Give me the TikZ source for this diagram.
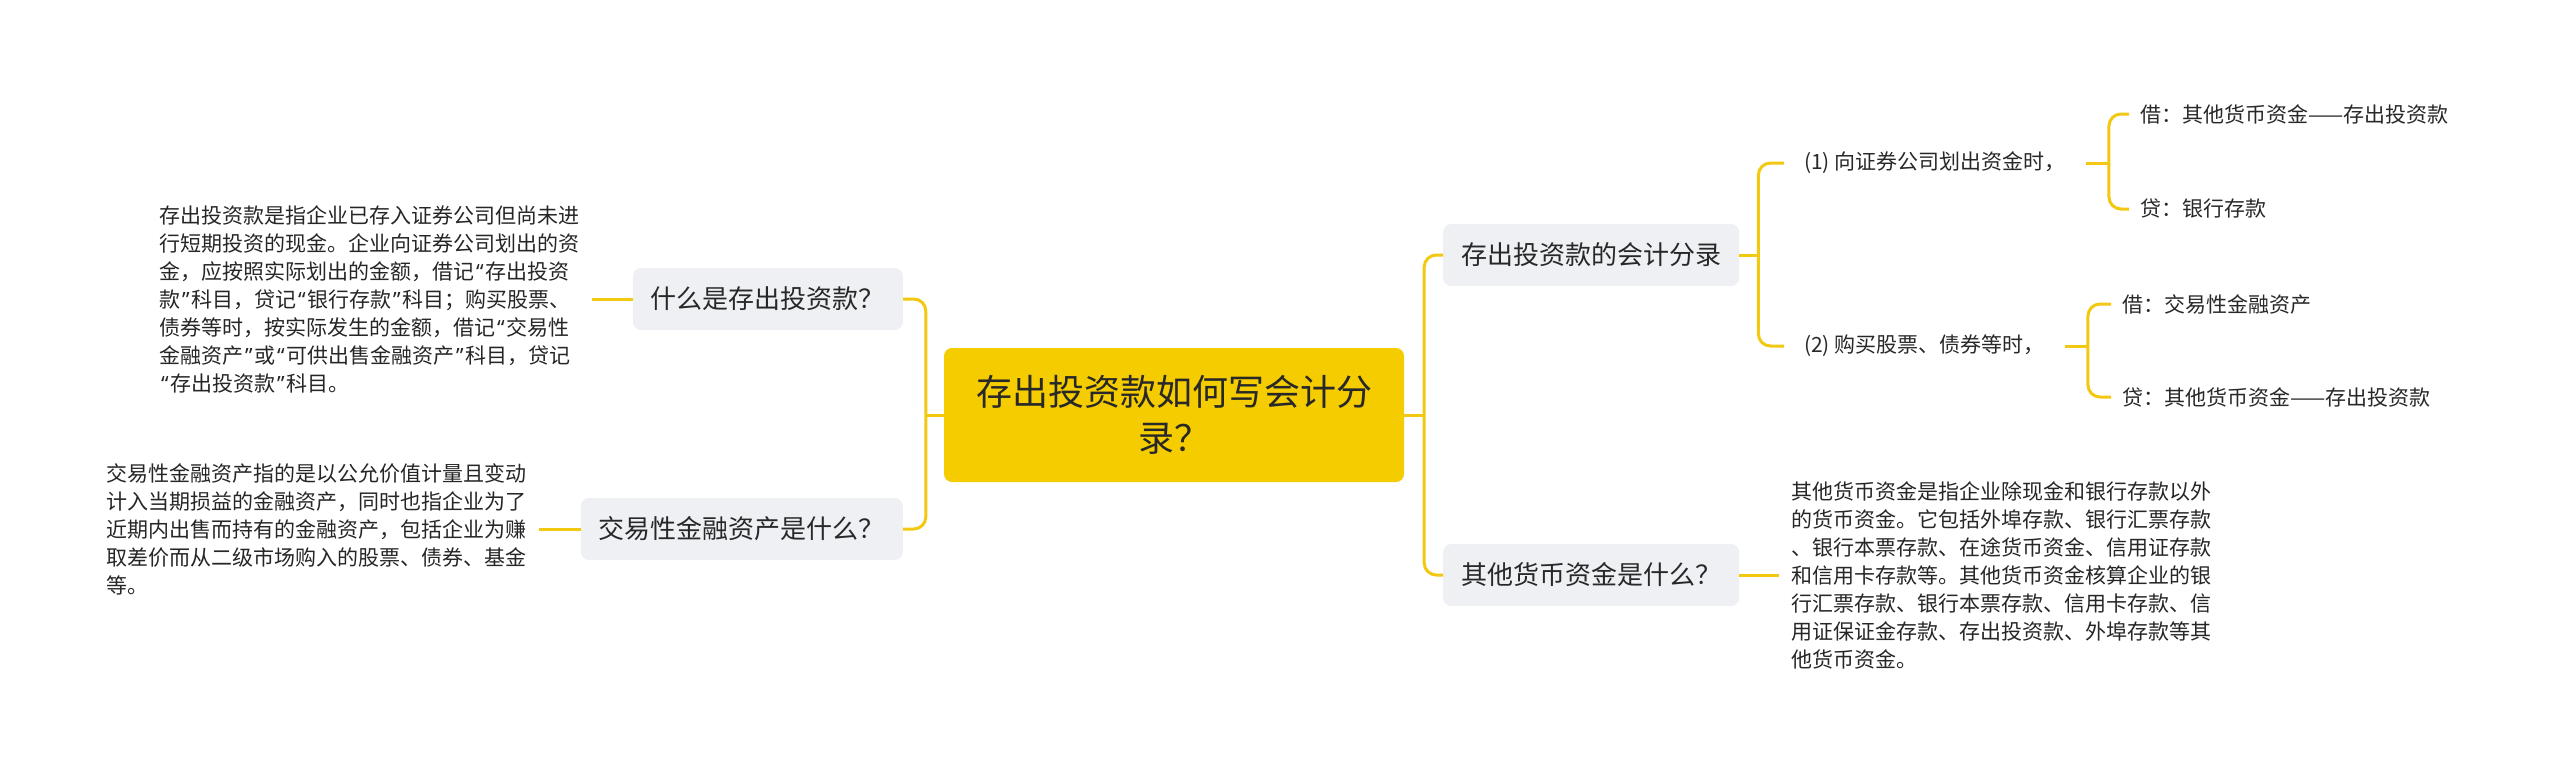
\documentclass[tikz,border=0pt]{standalone}
\usepackage{fontspec}
\setmainfont{Noto Sans CJK SC}
\newfontfamily\quotefont{Noto Sans}
\usetikzlibrary{positioning}
\definecolor{rootcol}{RGB}{245,204,0}
\definecolor{linkcol}{RGB}{242,200,17}
\definecolor{topiccol}{RGB}{238,240,244}
\definecolor{inkcol}{RGB}{40,40,40}
\newcommand\qo{\makebox[11pt][c]{\quotefont “}}
\newcommand\qc{\makebox[11pt][c]{\quotefont ”}}

\begin{document}
\begin{tikzpicture}[
    x=1pt, y=-1pt,
    root/.style={rectangle, rounded corners=8pt, fill=rootcol, minimum width=460pt, minimum height=134pt, text width=400pt, align=center, font=\fontsize{36}{46}\selectfont, text=inkcol},
    topic/.style={rectangle, rounded corners=8pt, fill=topiccol, minimum height=62pt, inner xsep=18pt, font=\fontsize{26}{32}\selectfont, text=inkcol},
    sub/.style={inner xsep=20pt, inner ysep=2pt, font=\fontsize{21}{28}\selectfont, text=inkcol},
    leaf/.style={inner xsep=11pt, inner ysep=2pt, font=\fontsize{21}{28}\selectfont, text=inkcol},
    note/.style={inner xsep=12pt, align=left, font=\fontsize{21}{28}\selectfont, text=black!85},
    link/.style={draw=linkcol, line width=3pt, rounded corners=12pt},
]
\useasboundingbox (0,0) rectangle (2560,771);

% centre
\node[root] (c) at (1174,415) {存出投资款如何写会计分\\录？};

% first level
\node[topic, anchor=east] (n1) at (903,299) {什么是存出投资款？};
\node[topic, anchor=east] (n2) at (903,529) {交易性金融资产是什么？};
\node[topic, anchor=west] (n3) at (1443,255) {存出投资款的会计分录};
\node[topic, anchor=west] (n4) at (1443,575) {其他货币资金是什么？};

% notes
\node[note, left=41pt of n1] (d1) {存出投资款是指企业已存入证券公司但尚未进\\行短期投资的现金。企业向证券公司划出的资\\金，应按照实际划出的金额，借记\qo 存出投资\\款\qc 科目，贷记\qo 银行存款\qc 科目；购买股票、\\债券等时，按实际发生的金额，借记\qo 交易性\\金融资产\qc 或\qo 可供出售金融资产\qc 科目，贷记\\\qo 存出投资款\qc 科目。};
\node[note, left=42pt of n2] (d2) {交易性金融资产指的是以公允价值计量且变动\\计入当期损益的金融资产，同时也指企业为了\\近期内出售而持有的金融资产，包括企业为赚\\取差价而从二级市场购入的股票、债券、基金\\等。};
\node[note, right=40pt of n4] (d4) {其他货币资金是指企业除现金和银行存款以外\\的货币资金。它包括外埠存款、银行汇票存款\\、银行本票存款、在途货币资金、信用证存款\\和信用卡存款等。其他货币资金核算企业的银\\行汇票存款、银行本票存款、信用卡存款、信\\用证保证金存款、存出投资款、外埠存款等其\\他货币资金。};

% entries
\node[sub, anchor=west] (p1) at (1784,163) {(1) 向证券公司划出资金时，};
\node[sub, anchor=west] (p2) at (1784,346) {(2) 购买股票、债券等时，};
\node[leaf, anchor=west] (q1) at (2129,114) {借：其他货币资金——存出投资款};
\node[leaf, anchor=west] (q2) at (2129,209) {贷：银行存款};
\node[leaf, anchor=west] (q3) at (2111,304) {借：交易性金融资产};
\node[leaf, anchor=west] (q4) at (2111,397) {贷：其他货币资金——存出投资款};

% links
\draw[link] (c.west) -- ++(-18,0) coordinate (bl);
\draw[link] (bl) |- (n1.east);
\draw[link] (bl) |- (n2.east);
\draw[link] (c.east) -- ++(20,0) coordinate (br);
\draw[link] (br) |- (n3.west);
\draw[link] (br) |- (n4.west);
\draw[link] (n1.west) -- (d1.east);
\draw[link] (n2.west) -- (d2.east);
\draw[link] (n4.east) -- (d4.west);
\draw[link] (n3.east) -- ++(19,0) coordinate (b3);
\draw[link] (b3) |- (p1.west);
\draw[link] (b3) |- (p2.west);
\draw[link] (p1.east) -- ++(23,0) coordinate (b4);
\draw[link] (b4) |- (q1.west);
\draw[link] (b4) |- (q2.west);
\draw[link] (p2.east) -- ++(23,0) coordinate (b5);
\draw[link] (b5) |- (q3.west);
\draw[link] (b5) |- (q4.west);
\end{tikzpicture}
\end{document}
